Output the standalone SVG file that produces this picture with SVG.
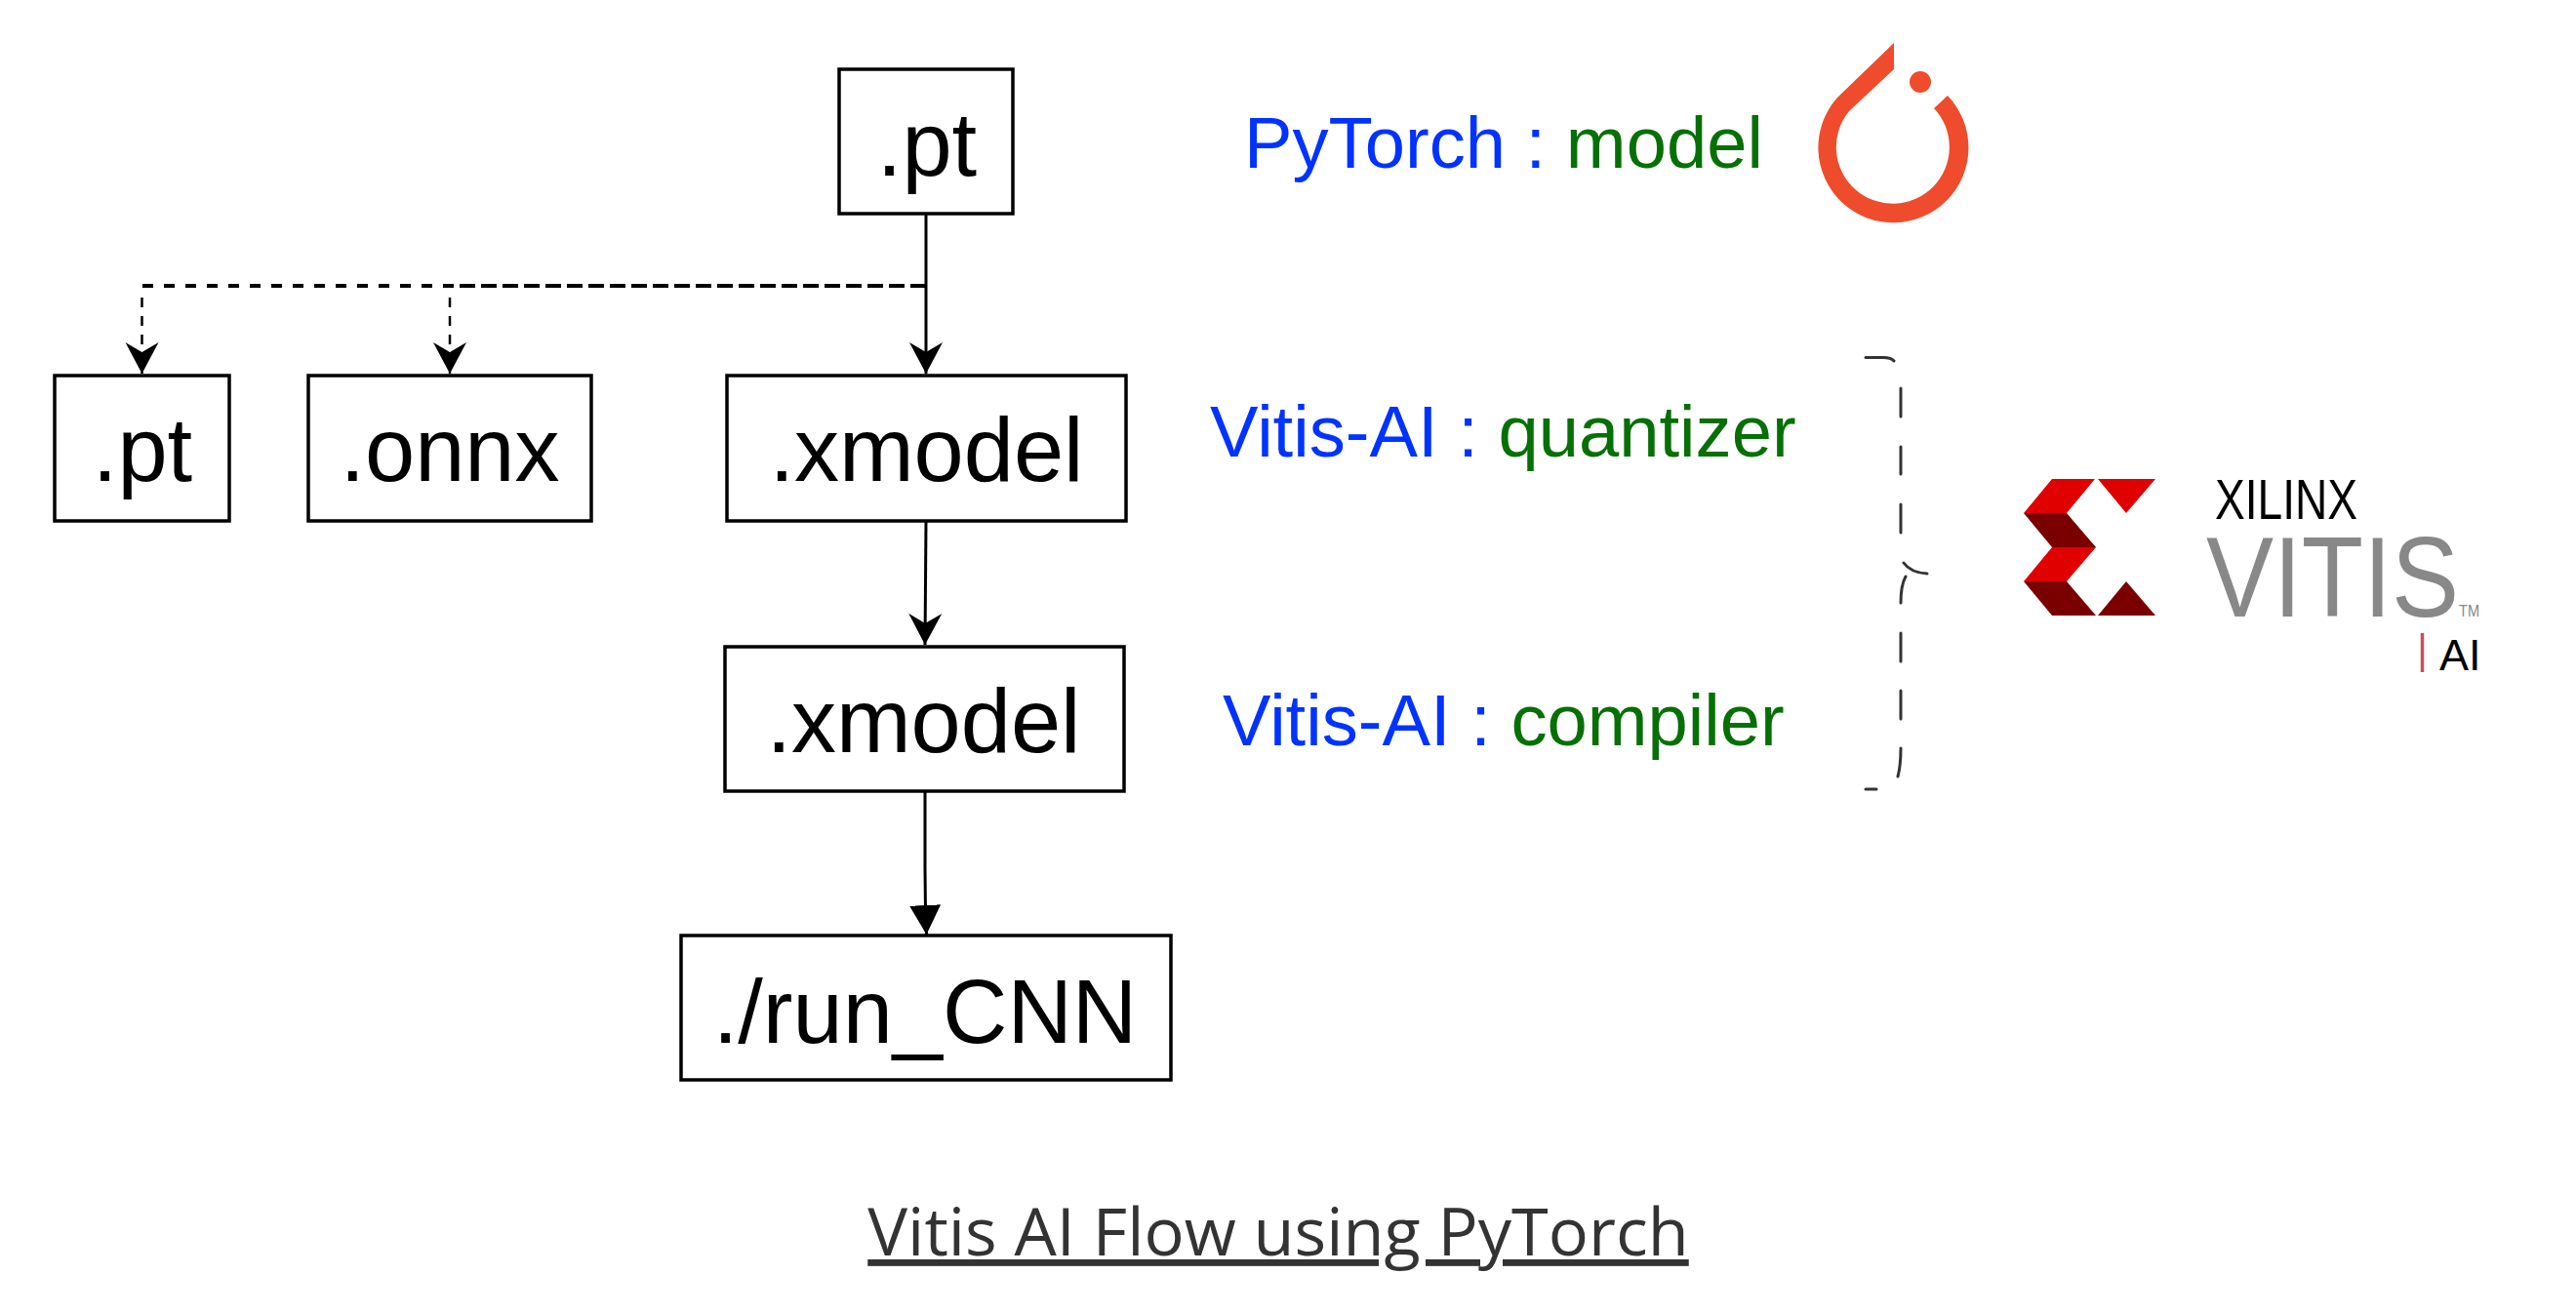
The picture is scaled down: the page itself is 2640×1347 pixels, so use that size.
<svg xmlns="http://www.w3.org/2000/svg" width="2640" height="1347" viewBox="0 0 2640 1347">
<style>
.box{fill:#fff;stroke:#000;stroke-width:3.5}
.lbl{font-family:"Liberation Sans",Arial,sans-serif;font-size:92px;fill:#000;text-anchor:middle}
.cap{font-family:"Liberation Sans",Arial,sans-serif;font-size:74.2px}
.b{fill:#0033ff}.g{fill:#067006}
.c{fill:none;stroke:#000;stroke-width:3}
.d{fill:none;stroke:#000;stroke-width:2.500;stroke-dasharray:10 9}
.h{fill:none;stroke:#000;stroke-width:4;stroke-dasharray:11 11}
.br{fill:none;stroke:#333;stroke-width:3;stroke-linecap:round}
.lg{font-family:"Liberation Sans",Arial,sans-serif}
.title{font-family:"Open Sans",sans-serif;font-size:68.5px;fill:#333;text-anchor:middle;text-decoration:underline;text-decoration-thickness:5px;text-underline-offset:5px;text-decoration-skip-ink:none}
</style>
<defs>
<marker id="ah" markerUnits="userSpaceOnUse" markerWidth="34" markerHeight="36" refX="32" refY="17" orient="auto"><path d="M0 0L32 17L0 34L10 17Z" fill="#000"/></marker>
<marker id="af" markerUnits="userSpaceOnUse" markerWidth="32" markerHeight="34" refX="30" refY="16" orient="auto"><path d="M0 0L30 16L0 32Z" fill="#000"/></marker>
</defs>
<rect width="2640" height="1347" fill="#fff"/>
<g id="connectors">
<path class="c" d="M949 219V383" marker-end="url(#ah)"/>
<path class="h" d="M949 293H145"/>
<path class="h" stroke-dashoffset="-5" d="M949 293H461"/>
<path class="d" d="M145.500 305V383" marker-end="url(#ah)"/>
<path class="d" d="M461 305V383" marker-end="url(#ah)"/>
<path class="c" d="M949 534L948 661" marker-end="url(#ah)"/>
<path class="c" d="M948 811V890Q948 925 949.500 958" marker-end="url(#af)"/>
</g>
<g id="node-pt-top"><rect class="box" x="860" y="71" width="178" height="148"/><text class="lbl" x="950" y="180">.pt</text></g>
<g id="node-pt"><rect class="box" x="56" y="385" width="179" height="149"/><text class="lbl" x="146" y="493">.pt</text></g>
<g id="node-onnx"><rect class="box" x="316" y="385" width="290" height="149"/><text class="lbl" x="461" y="493">.onnx</text></g>
<g id="node-xmodel-1"><rect class="box" x="745" y="385" width="409" height="149"/><text class="lbl" x="949.500" y="493">.xmodel</text></g>
<g id="node-xmodel-2"><rect class="box" x="743" y="663" width="409" height="148"/><text class="lbl" x="946.500" y="771">.xmodel</text></g>
<g id="node-run"><rect class="box" x="698" y="959" width="502" height="148"/><text class="lbl" x="948" y="1069">./run_CNN</text></g>
<g id="label-pytorch"><text class="cap" x="1275" y="172"><tspan class="b">PyTorch : </tspan><tspan class="g">model</tspan></text></g>
<g id="label-quantizer"><text class="cap" x="1240" y="468"><tspan class="b">Vitis-AI : </tspan><tspan class="g">quantizer</tspan></text></g>
<g id="label-compiler"><text class="cap" x="1253" y="764"><tspan class="b">Vitis-AI : </tspan><tspan class="g">compiler</tspan></text></g>
<g id="brace"><path class="br" d="M1912 366.500H1930Q1938 366.500 1941 370M1948 398V427M1948 458V486M1948 517V546M1951 577Q1958 587 1975 588M1953 591Q1948 600 1948 618M1948 649V678M1948 708V737M1948 767Q1948 785 1945 796M1912 809H1923"/></g>
<g id="logo-pytorch"><path fill="#ee4c2c" d="M1941 44V71L1895 114A58 58 0 1 0 1982 111L1996 98A77 77 0 1 1 1883 100Z"/><circle cx="1968" cy="84" r="11" fill="#ee4c2c"/></g>
<g id="logo-vitis">
<path fill="#e00000" d="M2103 491H2147L2118 526H2074ZM2150 491H2209L2179 526ZM2103 561H2148L2118 596H2074Z"/>
<path fill="#7a0000" d="M2074 526H2118L2148 561H2103ZM2074 596H2118L2148 631H2103ZM2179 596L2209 631H2150Z"/>
<text class="lg" x="2270" y="532" font-size="57" textLength="146" lengthAdjust="spacingAndGlyphs" fill="#000">XILINX</text>
<text class="lg" x="2261" y="632" font-size="116" textLength="259" lengthAdjust="spacingAndGlyphs" fill="#888">VITIS</text>
<text class="lg" x="2520" y="632" font-size="16" textLength="21" lengthAdjust="spacingAndGlyphs" fill="#888">TM</text>
<path d="M2482.500 649V689" stroke="#c8505a" stroke-width="3.500" fill="none"/>
<text class="lg" x="2500" y="687" font-size="45" fill="#000">AI</text>
</g>
<g id="title"><text class="title" x="1310" y="1287">Vitis AI Flow using PyTorch</text></g>
</svg>
